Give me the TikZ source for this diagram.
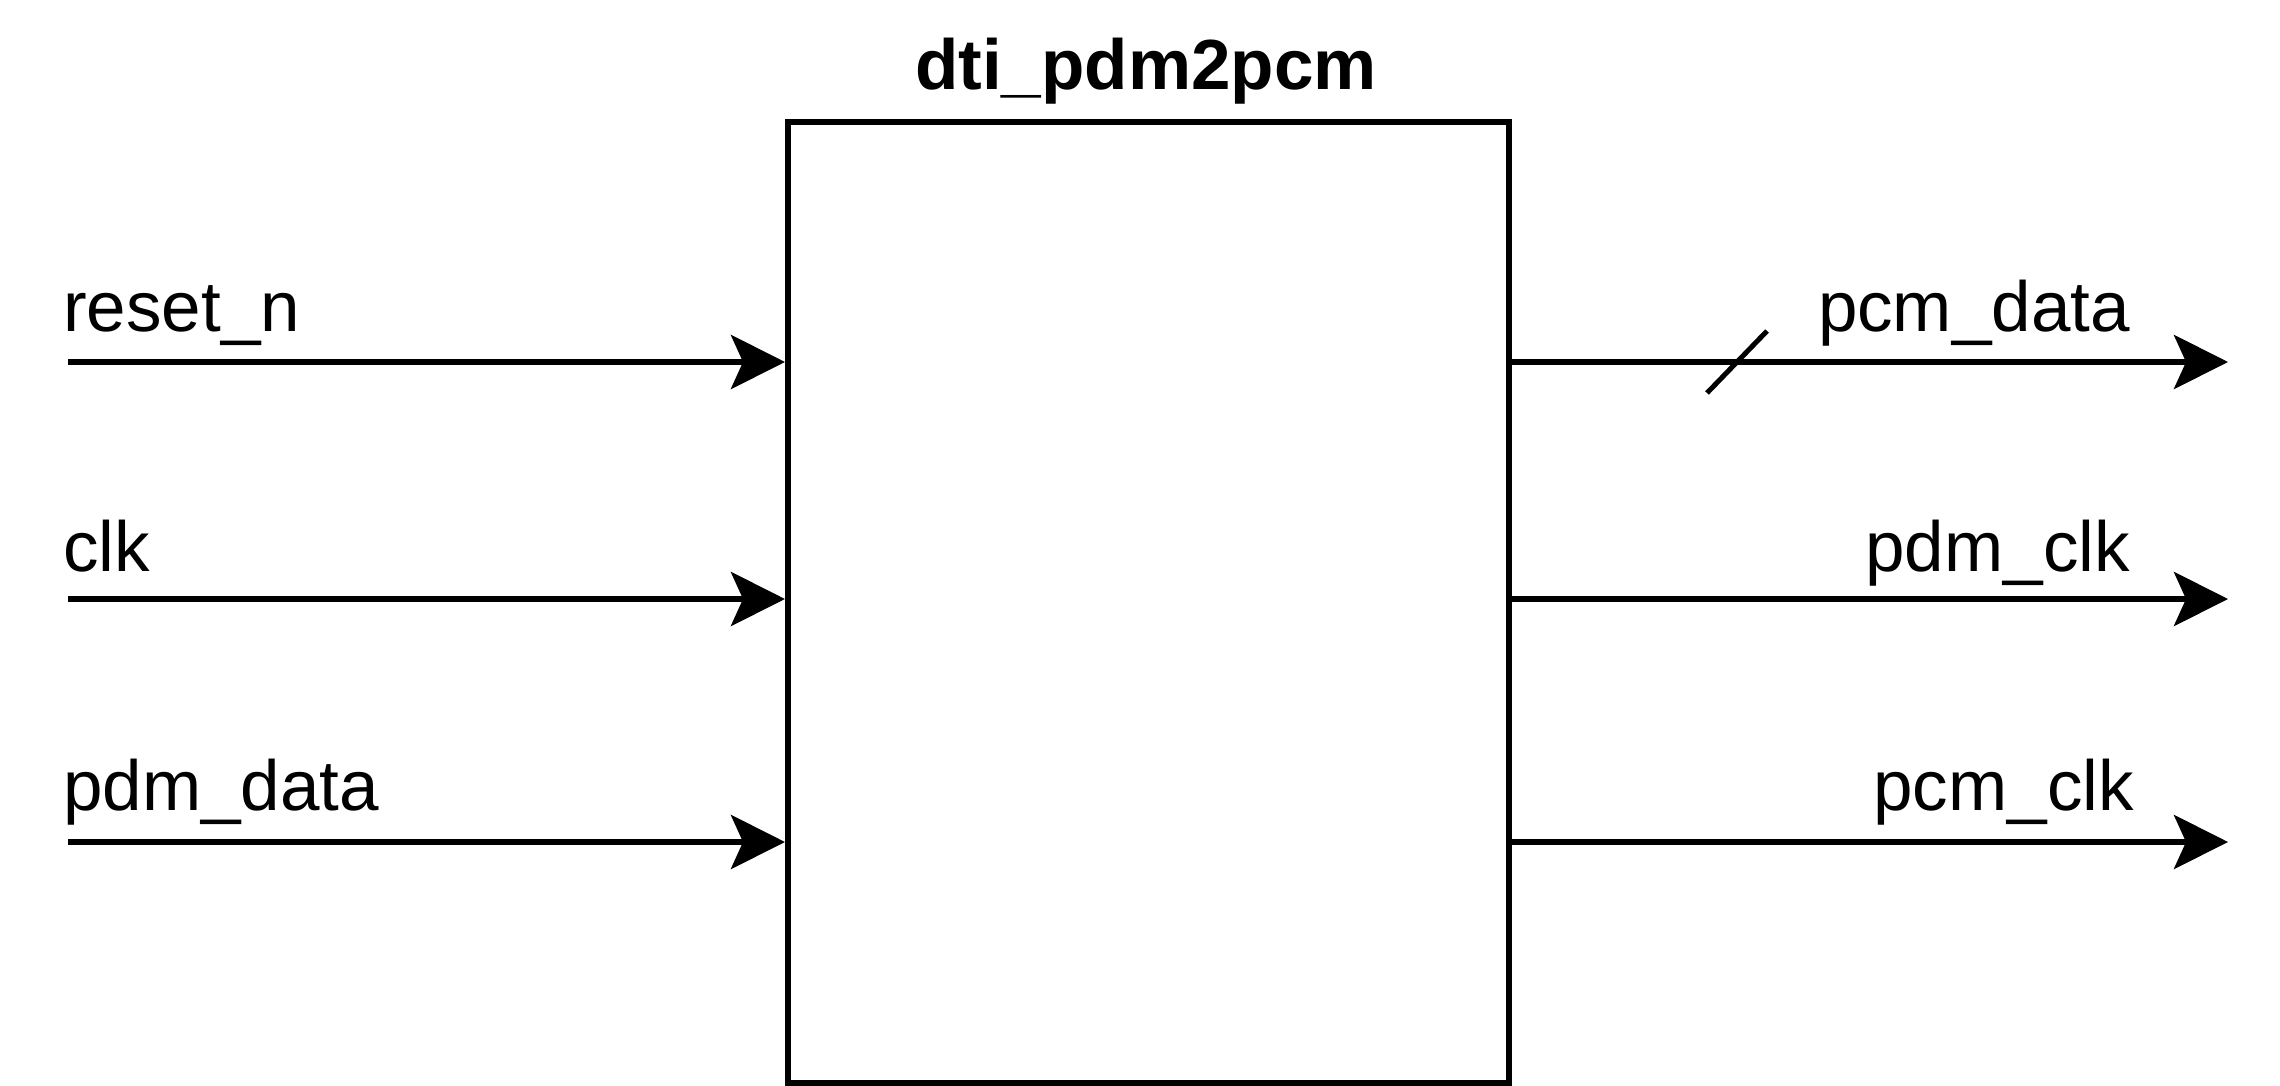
\documentclass[tikz,border=0pt]{standalone}
\usepackage{fontspec}
\setmainfont{Liberation Sans}
\usepackage{tikz}
\usetikzlibrary{arrows.meta,positioning,calc}

\begin{document}
\begin{tikzpicture}[
    x=1pt, y=-1pt,
    block/.style={rectangle, draw=black, line width=6pt, minimum width=721pt, minimum height=961pt, inner sep=0pt},
    sig/.style={-{Stealth[length=54pt, width=54pt, inset=12pt]}, line width=6pt},
    port/.style={font=\fontsize{71pt}{85pt}\selectfont, inner sep=0pt},
    title/.style={font=\fontsize{71pt}{85pt}\selectfont\bfseries, inner sep=0pt}
  ]
    \useasboundingbox (0,0) rectangle (2280,1086);

    % block and its name
    \node[block] (dut) at (1148.5,602.5) {};
    \node[title, anchor=base] (dutname) at (1146,90) {dti\_pdm2pcm};

    % inputs
    \coordinate (rstin) at (68,362);
    \coordinate (clkin) at (68,599);
    \coordinate (datin) at (68,842);
    \draw[sig] (rstin) -- (rstin -| dut.west);
    \draw[sig] (clkin) -- (clkin -| dut.west);
    \draw[sig] (datin) -- (datin -| dut.west);
    \node[port, anchor=base west] (rstlbl) at (63,331) {reset\_n};
    \node[port, anchor=base west] (clklbl) at (63,571) {clk};
    \node[port, anchor=base west] (datlbl) at (63,810) {pdm\_data};

    % outputs
    \coordinate (pcmout) at (2228,362);
    \coordinate (pclkout) at (2228,599);
    \coordinate (cclkout) at (2228,842);
    \draw[sig] (pcmout -| dut.east) -- (pcmout);
    \draw[sig] (pclkout -| dut.east) -- (pclkout);
    \draw[sig] (cclkout -| dut.east) -- (cclkout);
    \node[port, anchor=base east] (pcmlbl) at (2130,331) {pcm\_data};
    \node[port, anchor=base east] (pclklbl) at (2130,571) {pdm\_clk};
    \node[port, anchor=base east] (cclklbl) at (2134,810) {pcm\_clk};

    % bus mark
    \coordinate (bus) at (1737,362);
    \draw[line width=5pt] ($(bus)+(-30,31)$) -- ($(bus)+(30,-31)$);
  \end{tikzpicture}
\end{document}
